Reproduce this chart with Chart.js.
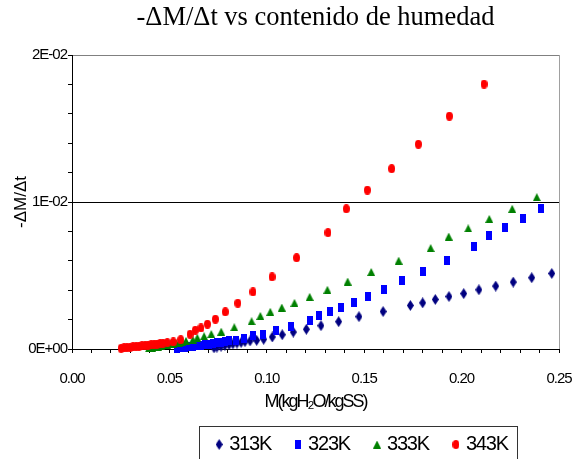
<!DOCTYPE html>
<html><head><meta charset="utf-8">
<script src="https://cdn.jsdelivr.net/npm/chart.js@4.4.1/dist/chart.umd.min.js"></script>
<style>html,body{margin:0;padding:0;background:#fff;}canvas{display:block;}</style>
</head><body>
<canvas id="c" width="580" height="459"></canvas>
<script>
// ---- data ----
const seriesNames = ['313K', '323K', '333K', '343K'];
const titleText = '-\u0394M/\u0394t vs contenido de humedad';
const xTitleText = 'M(kgH\u2082O/kgSS)';
const yTitleText = '-\u0394M/\u0394t';
const xTickLabels = ['0.00', '0.05', '0.10', '0.15', '0.20', '0.25'];
const yTickLabels = ['0E+00', '1E-02', '2E-02'];

const x313 = [0.2463,0.2360,0.2265,0.2175,0.2089,0.2011,0.1935,0.1865,0.1800,0.1737,0.1597,0.1473,0.1369,0.1278,0.1203,0.1136,0.1079,0.1028,0.0984,0.0948,0.0914,0.0888,0.0868,0.0847,0.0826,0.0806,0.0785,0.0765,0.0744,0.0729];
const y313 = [0.00514,0.00485,0.00455,0.00428,0.00403,0.00377,0.00357,0.00337,0.00314,0.00296,0.00255,0.00220,0.00186,0.00159,0.00134,0.00115,0.00097,0.00082,0.00066,0.00059,0.00055,0.00050,0.00045,0.00040,0.00035,0.00030,0.00025,0.00019,0.00013,0.00008];

const x323 = [0.2408,0.2314,0.2224,0.2141,0.2062,0.1924,0.1802,0.1696,0.1602,0.1520,0.1446,0.1381,0.1323,0.1270,0.1223,0.1124,0.1047,0.0982,0.0928,0.0883,0.0842,0.0807,0.0785,0.0765,0.0744,0.0724,0.0703,0.0683,0.0662,0.0642,0.0621,0.0601,0.0580,0.0560,0.0539];
const y323 = [0.00958,0.00889,0.00828,0.00769,0.00694,0.00605,0.00528,0.00464,0.00408,0.00360,0.00319,0.00282,0.00253,0.00227,0.00191,0.00152,0.00123,0.00100,0.00089,0.00073,0.00061,0.00055,0.00050,0.00046,0.00042,0.00038,0.00034,0.00031,0.00027,0.00023,0.00019,0.00015,0.00012,0.00008,0.00004];

const x333 = [0.2386,0.2260,0.2142,0.2034,0.1934,0.1841,0.1677,0.1536,0.1415,0.1311,0.1220,0.1142,0.1077,0.1018,0.0967,0.0922,0.0833,0.0766,0.0715,0.0678,0.0643,0.0620,0.0585,0.0565,0.0549,0.0534,0.0518,0.0503,0.0488,0.0472,0.0457,0.0441,0.0426,0.0411,0.0395];
const y333 = [0.01033,0.00954,0.00885,0.00821,0.00765,0.00687,0.00601,0.00524,0.00459,0.00403,0.00355,0.00314,0.00282,0.00253,0.00225,0.00189,0.00148,0.00118,0.00102,0.00087,0.00077,0.00063,0.00055,0.00048,0.00044,0.00040,0.00036,0.00032,0.00028,0.00025,0.00021,0.00017,0.00013,0.00009,0.00005];

const x343 = [0.2115,0.1937,0.1778,0.1641,0.1516,0.1408,0.1314,0.1153,0.1027,0.0929,0.0851,0.0787,0.0736,0.0695,0.0662,0.0633,0.0606,0.0558,0.0520,0.0489,0.0467,0.0452,0.0436,0.0421,0.0406,0.0390,0.0375,0.0359,0.0344,0.0329,0.0313,0.0298,0.0282,0.0267,0.0252];
const y343 = [0.01802,0.01584,0.01393,0.01227,0.01081,0.00954,0.00792,0.00621,0.00491,0.00389,0.00312,0.00253,0.00203,0.00169,0.00143,0.00128,0.00100,0.00063,0.00048,0.00043,0.00040,0.00037,0.00034,0.00032,0.00029,0.00027,0.00024,0.00022,0.00019,0.00017,0.00015,0.00012,0.00010,0.00008,0.00005];

// ---- marker images ----
function marker(kind, color) {
  const c = document.createElement('canvas');
  const sz = {diamond: [7, 11], square: [6, 9], triangle: [8, 8], ellipse: [7, 9]}[kind];
  c.width = sz[0]; c.height = sz[1];
  const g = c.getContext('2d');
  g.fillStyle = color;
  g.beginPath();
  if (kind === 'diamond') { g.moveTo(3.5, 0); g.lineTo(7, 5.5); g.lineTo(3.5, 11); g.lineTo(0, 5.5); }
  else if (kind === 'square') { g.rect(0, 0, 6, 9); }
  else if (kind === 'triangle') { g.moveTo(4, 0); g.lineTo(8, 8); g.lineTo(0, 8); }
  else { g.ellipse(3.5, 4.5, 3.5, 4.5, 0, 0, Math.PI * 2); }
  g.closePath(); g.fill();
  return c;
}
const pts = (xs, ys) => xs.map((x, i) => ({x, y: ys[i]}));

const SANS = "'Liberation Sans', Arial, sans-serif";
const SERIF = "'Liberation Serif', 'Times New Roman', serif";
const LEG_PAD = 27;
const LEG_DX = 80;

function wrapSpacing(obj, name, sp) {
  const f = obj && obj[name];
  if (!f || f.__sp) return;
  const g = function () { const c = this.ctx; c.save(); c.letterSpacing = sp; const r = f.apply(this, arguments); c.restore(); return r; };
  g.__sp = true; obj[name] = g;
}

const excelLook = {
  id: 'excelLook',
  afterInit(chart) { wrapSpacing(chart.legend, 'fit', '-1.2px'); wrapSpacing(chart.legend, 'draw', '-1.2px'); },
  afterLayout(chart) { const lg = chart.legend; lg.left += LEG_DX; lg.right += LEG_DX; },
  beforeDraw(chart) {
    const s = chart.scales;
    wrapSpacing(s.x, 'drawLabels', '-1px');
    wrapSpacing(s.y, 'drawLabels', '-1px');
    wrapSpacing(s.x, 'drawTitle', '-2px');
  },
  afterDraw(chart) {
    const lg = chart.legend, ctx = chart.ctx;
    const rowStart = (lg.left + LEG_PAD + lg.right - lg.lineWidths[0]) / 2;
    const left = rowStart - 20;
    const right = rowStart + lg.lineWidths[0] - LEG_PAD + 9;
    const fs = lg.options.labels.font.size;
    const cy = lg.top + LEG_PAD + fs / 2;
    const top = cy - 18.5;
    ctx.save();
    ctx.strokeStyle = '#333'; ctx.lineWidth = 1;
    ctx.strokeRect(Math.round(left) + 0.5, Math.round(top) + 0.5, Math.round(right - left), 60);
    ctx.restore();
  }
};

const isMult = (v, s) => Math.abs(v / s - Math.round(v / s)) < 1e-6;

new Chart(document.getElementById('c'), {
  type: 'scatter',
  data: {
    datasets: [
      {label: seriesNames[0], data: pts(x313, y313), pointStyle: marker('diamond', '#000080'), order: 4},
      {label: seriesNames[1], data: pts(x323, y323), pointStyle: marker('square', '#0000FF'), order: 3},
      {label: seriesNames[2], data: pts(x333, y333), pointStyle: marker('triangle', '#008000'), order: 2},
      {label: seriesNames[3], data: pts(x343, y343), pointStyle: marker('ellipse', '#FF0000'), order: 1}
    ]
  },
  options: {
    responsive: false, animation: false, devicePixelRatio: 1,
    datasets: {scatter: {clip: false, showLine: false}},
    layout: {padding: {left: 8, right: 21, top: 0, bottom: -5.5}},
    plugins: {
      title: {display: true, fullSize: false, text: titleText, color: '#000', font: {family: SERIF, size: 26.5, weight: 'normal'}, padding: {top: 2.2, bottom: 21}},
      legend: {position: 'bottom', labels: {usePointStyle: true, pointStyleWidth: 0.01, padding: LEG_PAD, color: '#000', font: {family: SANS, size: 20},
        sort: (a, b) => a.datasetIndex - b.datasetIndex}},
      tooltip: {enabled: false}
    },
    scales: {
      x: {
        type: 'linear', min: 0, max: 0.25,
        afterFit(s) { s.height = 58.5; s.paddingLeft = 0; s.paddingRight = 0; },
        border: {display: true, color: '#000', width: 1},
        grid: {
          drawTicks: true, tickLength: 4, tickColor: '#000',
          color: (c) => (c.tick && Math.abs(c.tick.value - 0.25) < 1e-9) ? '#a0a0a0' : 'rgba(0,0,0,0)'
        },
        ticks: {
          stepSize: 0.01, autoSkip: false, maxRotation: 0, padding: 17, color: '#000',
          font: {family: SANS, size: 15},
          callback: (v) => isMult(v, 0.05) ? xTickLabels[Math.round(v / 0.05)] : ''
        },
        title: {display: true, text: xTitleText, color: '#000', font: {family: SANS, size: 18}, padding: {top: 0, bottom: -5.3}}
      },
      y: {
        type: 'linear', min: 0, max: 0.02,
        afterFit(s) { s.width = 64; },
        border: {display: true, color: '#000', width: 1},
        grid: {
          drawTicks: true, tickLength: 4, tickColor: '#000',
          color: (c) => {
            const v = c.tick ? c.tick.value : 0;
            if (Math.abs(v - 0.01) < 1e-9) return '#000';
            if (Math.abs(v - 0.02) < 1e-9) return '#808080';
            return 'rgba(0,0,0,0)';
          }
        },
        ticks: {
          stepSize: 0.002, autoSkip: false, padding: 1, color: '#000',
          font: {family: SANS, size: 15},
          callback: (v) => isMult(v, 0.01) ? yTickLabels[Math.round(v / 0.01)] : ''
        },
        title: {display: true, text: yTitleText, color: '#000', font: {family: SANS, size: 17}, padding: {top: 2.8, bottom: 0}}
      }
    }
  },
  plugins: [excelLook]
});
</script>
</body></html>
